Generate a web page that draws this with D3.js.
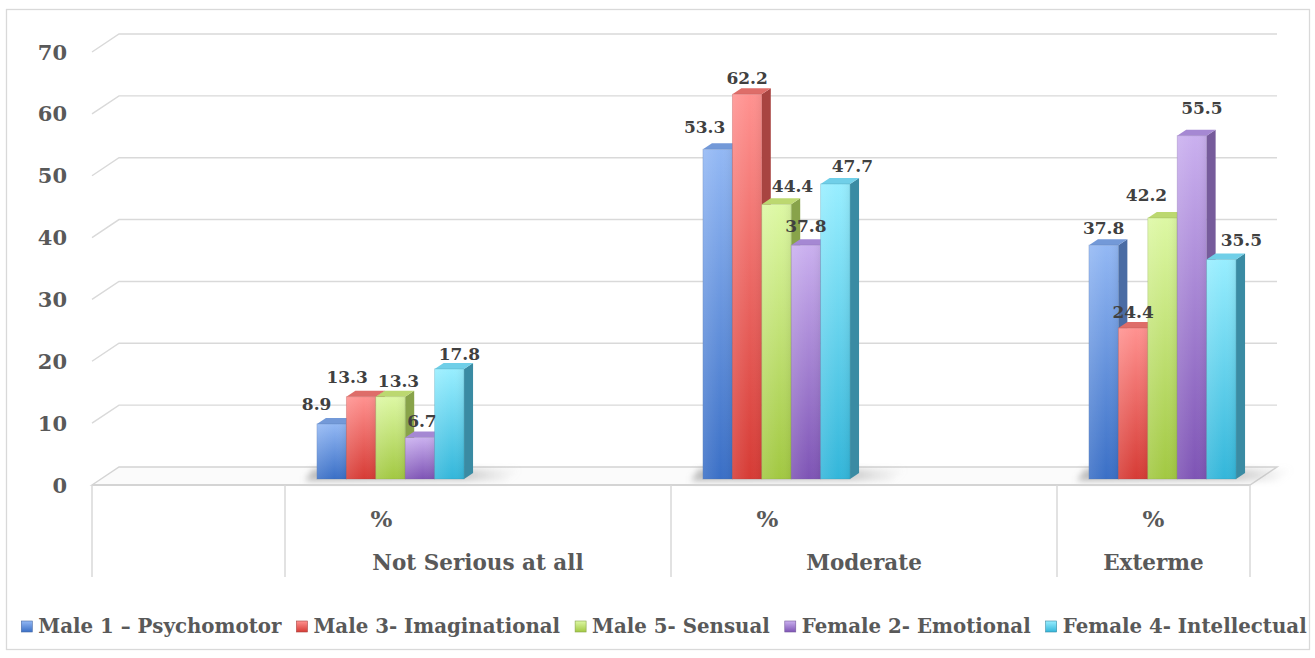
<!DOCTYPE html>
<html>
<head>
<meta charset="utf-8">
<script src="https://cdn.jsdelivr.net/npm/d3@7"></script>
<style>
  html, body { margin: 0; padding: 0; background: #fff; }
  svg { display: block; }
  text { font-family: "DejaVu Serif", "Liberation Serif", serif; font-weight: bold; }
</style>
</head>
<body>
<svg id="chart" width="1315" height="658"></svg>
<script>
// ---- data ----
const seriesNames = ["Male 1 \u2013 Psychomotor", "Male 3- Imaginational", "Male 5- Sensual", "Female 2- Emotional", "Female 4- Intellectual"];
const categories = ["Not Serious at all", "Moderate", "Exterme"];
const innerLabels = ["", "%", "", "%", "", "%"];
const notSerious = [8.9, 13.3, 13.3, 6.7, 17.8];
const moderate = [53.3, 62.2, 44.4, 37.8, 47.7];
const exterme = [37.8, 24.4, 42.2, 55.5, 35.5];
const yTicks = [0, 10, 20, 30, 40, 50, 60, 70];

// category -> slot on the two-level axis, and which slots each outer label spans
const barSlots = [1, 3, 5];
const outerGroups = [
  { label: "", slots: [0, 0] },
  { label: categories[0], slots: [1, 2] },
  { label: categories[1], slots: [3, 4] },
  { label: categories[2], slots: [5, 5] }
];
const values = [notSerious, moderate, exterme];

// ---- styling ----
const palette = [
  { hi: "#93b8f4", lo: "#3a6fc6", side: "#4a6ca4", top: "#7399d8" },
  { hi: "#ff9290", lo: "#d63b35", side: "#a84441", top: "#de6d69" },
  { hi: "#ddf8a4", lo: "#a2c842", side: "#88a34a", top: "#bcd870" },
  { hi: "#cab0ef", lo: "#7e54b5", side: "#765b9b", top: "#a588d3" },
  { hi: "#98eeff", lo: "#33b6da", side: "#3a8ba3", top: "#70cfe8" }
];
// label offsets (dx, dy from the top of the bar front face)
const labelShift = [
  [[-15, -14], [-14, -14], [8, -10], [2, -11], [10, -9]],
  [[-13, -16], [0, -10], [16, -12], [0, -13], [17, -12]],
  [[0, -11], [0, -10], [-16, -17], [10, -22], [20, -13]]
];

const svg = d3.select("#chart");

// 3D projection: depth fraction f shifts a point right and up
const DX = 27, DY = -18;
const depth = f => [DX * f, DY * f];

const x0 = 92, x1 = 1250;
const slot = d3.scaleBand().domain(d3.range(innerLabels.length)).range([x0, x1]).padding(0);
const inner = d3.scaleBand().domain(d3.range(seriesNames.length)).range([0, slot.bandwidth()]).paddingInner(0).paddingOuter(0.78);
const y = d3.scaleLinear().domain([0, 70]).range([485, 52]);

// outer frame
svg.append("rect").attr("x", 6.5).attr("y", 9.5).attr("width", 1303).attr("height", 640)
  .attr("fill", "#fff").attr("stroke", "#d9d9d9").attr("stroke-width", 1.3);

const defs = svg.append("defs");
palette.forEach((p, i) => {
  const g = defs.append("linearGradient").attr("id", "front" + i).attr("x1", 0).attr("y1", 0).attr("x2", 0).attr("y2", 1);
  g.append("stop").attr("offset", "0%").attr("stop-color", p.hi);
  g.append("stop").attr("offset", "100%").attr("stop-color", p.lo);
  const h = defs.append("linearGradient").attr("id", "sheen" + i).attr("x1", 0).attr("y1", 0).attr("x2", 1).attr("y2", 0);
  h.append("stop").attr("offset", "0%").attr("stop-color", "#fff").attr("stop-opacity", 0.12);
  h.append("stop").attr("offset", "60%").attr("stop-color", "#fff").attr("stop-opacity", 0);
  h.append("stop").attr("offset", "100%").attr("stop-color", "#000").attr("stop-opacity", 0.06);
});
defs.append("filter").attr("id", "soft").attr("x", "-20%").attr("y", "-50%").attr("width", "140%").attr("height", "200%")
  .append("feGaussianBlur").attr("stdDeviation", 3);
const sh = defs.append("linearGradient").attr("id", "shadowGrad").attr("x1", 0).attr("y1", 0).attr("x2", 1).attr("y2", 0);
sh.append("stop").attr("offset", "0%").attr("stop-color", "#888").attr("stop-opacity", 0.55);
sh.append("stop").attr("offset", "75%").attr("stop-color", "#999").attr("stop-opacity", 0.45);
sh.append("stop").attr("offset", "100%").attr("stop-color", "#bbb").attr("stop-opacity", 0);

// ---- walls: gridlines on back wall with diagonals along the side wall ----
const [bx, by] = depth(1);
const grid = svg.append("g").attr("stroke", "#d9d9d9").attr("stroke-width", 1.4).attr("fill", "none");
yTicks.forEach(t => {
  if (t === 0) return;
  grid.append("path").attr("d", d3.line()([[x0, y(t)], [x0 + bx, y(t) + by], [x1 + bx, y(t) + by]]));
});

// floor slab
svg.append("path")
  .attr("d", d3.line()([[x0, y(0)], [x0 + bx, y(0) + by], [x1 + bx, y(0) + by], [x1, y(0)]]) + "Z")
  .attr("fill", "#fbfbfb").attr("stroke", "#d4d4d4").attr("stroke-width", 1.5);

// tick labels
svg.append("g").selectAll("text").data(yTicks).join("text")
  .attr("x", 67).attr("y", d => y(d)).attr("dy", "0.36em")
  .attr("text-anchor", "end").attr("font-size", 21).attr("fill", "#595959")
  .text(d => d);

// ---- bars ----
const [pdx, pdy] = depth(1 / 3);   // front face of bars sits 1/3 into the depth
const [ddx, ddy] = depth(1 / 3);   // bar depth
const yb = v => y(v) + pdy;

values.forEach((vals, ci) => {
  const sx = slot(barSlots[ci]);
  const g = svg.append("g");
  // floor shadow
  const left = sx + inner(0) + pdx, right = sx + inner(vals.length - 1) + inner.bandwidth() + pdx;
  g.append("path")
    .attr("d", d3.line()([[left - 12, yb(0) + 2], [left - 4, yb(0) - 10], [right + ddx + 48, yb(0) - 10], [right + 40, yb(0) + 2]]) + "Z")
    .attr("fill", "url(#shadowGrad)").attr("filter", "url(#soft)");

  vals.forEach((v, si) => {
    const xl = sx + inner(si) + pdx, xr = xl + inner.bandwidth();
    const yt = yb(v), y0 = yb(0);
    const p = palette[si];
    // side face
    g.append("path").attr("d", d3.line()([[xr, yt], [xr + ddx, yt + ddy], [xr + ddx, y0 + ddy], [xr, y0]]) + "Z")
      .attr("fill", p.side);
    // top face
    g.append("path").attr("d", d3.line()([[xl, yt], [xl + ddx, yt + ddy], [xr + ddx, yt + ddy], [xr, yt]]) + "Z")
      .attr("fill", p.top);
    // front face
    g.append("rect").attr("x", xl).attr("y", yt).attr("width", xr - xl).attr("height", y0 - yt)
      .attr("fill", `url(#front${si})`).attr("stroke", p.side).attr("stroke-opacity", 0.35).attr("stroke-width", 0.8);
    g.append("rect").attr("x", xl).attr("y", yt).attr("width", xr - xl).attr("height", y0 - yt)
      .attr("fill", `url(#sheen${si})`);
  });
  // value labels
  vals.forEach((v, si) => {
    const xl = sx + inner(si) + pdx;
    const [dx, dy] = labelShift[ci][si];
    g.append("text")
      .attr("x", xl + inner.bandwidth() / 2 + dx).attr("y", yb(v) + dy)
      .attr("text-anchor", "middle").attr("font-size", 17).attr("fill", "#404040")
      .text(v);
  });
});

// ---- two-level category axis ----
const axis = svg.append("g");
axis.append("line").attr("x1", x0).attr("x2", x1).attr("y1", y(0)).attr("y2", y(0))
  .attr("stroke", "#d4d4d4").attr("stroke-width", 2);
const dividers = [x0].concat(outerGroups.map(g => slot(g.slots[1]) + slot.bandwidth()));
axis.selectAll("line.div").data(dividers).join("line").attr("class", "div")
  .attr("x1", d => d).attr("x2", d => d).attr("y1", y(0)).attr("y2", 577)
  .attr("stroke", "#d9d9d9").attr("stroke-width", 1.5);
axis.selectAll("text.inner").data(innerLabels).join("text").attr("class", "inner")
  .attr("x", (d, i) => slot(i) + slot.bandwidth() / 2).attr("y", 527)
  .attr("text-anchor", "middle").attr("font-size", 23).attr("fill", "#595959")
  .text(d => d);
axis.selectAll("text.outer").data(outerGroups).join("text").attr("class", "outer")
  .attr("x", d => (slot(d.slots[0]) + slot(d.slots[1]) + slot.bandwidth()) / 2).attr("y", 570)
  .attr("text-anchor", "middle").attr("font-size", 21.5).attr("fill", "#595959")
  .text(d => d.label);

// ---- legend ----
const legend = svg.append("g");
const items = legend.selectAll("g").data(seriesNames).join("g");
items.append("rect").attr("width", 11).attr("height", 11).attr("y", 621)
  .attr("fill", (d, i) => `url(#front${i})`).attr("stroke", (d, i) => palette[i].side).attr("stroke-width", 0.6);
const labels = items.append("text").attr("x", 17).attr("y", 633)
  .attr("font-size", 19.8).attr("fill", "#595959").text(d => d);
const widths = labels.nodes().map(n => n.getComputedTextLength());
const gap = 15;
const total = d3.sum(widths) + widths.length * 17 + (widths.length - 1) * gap;
let cx = (23 + 1305) / 2 - total / 2;
items.attr("transform", (d, i) => {
  const t = `translate(${cx},0)`;
  cx += 17 + widths[i] + gap;
  return t;
});
</script>
</body>
</html>
